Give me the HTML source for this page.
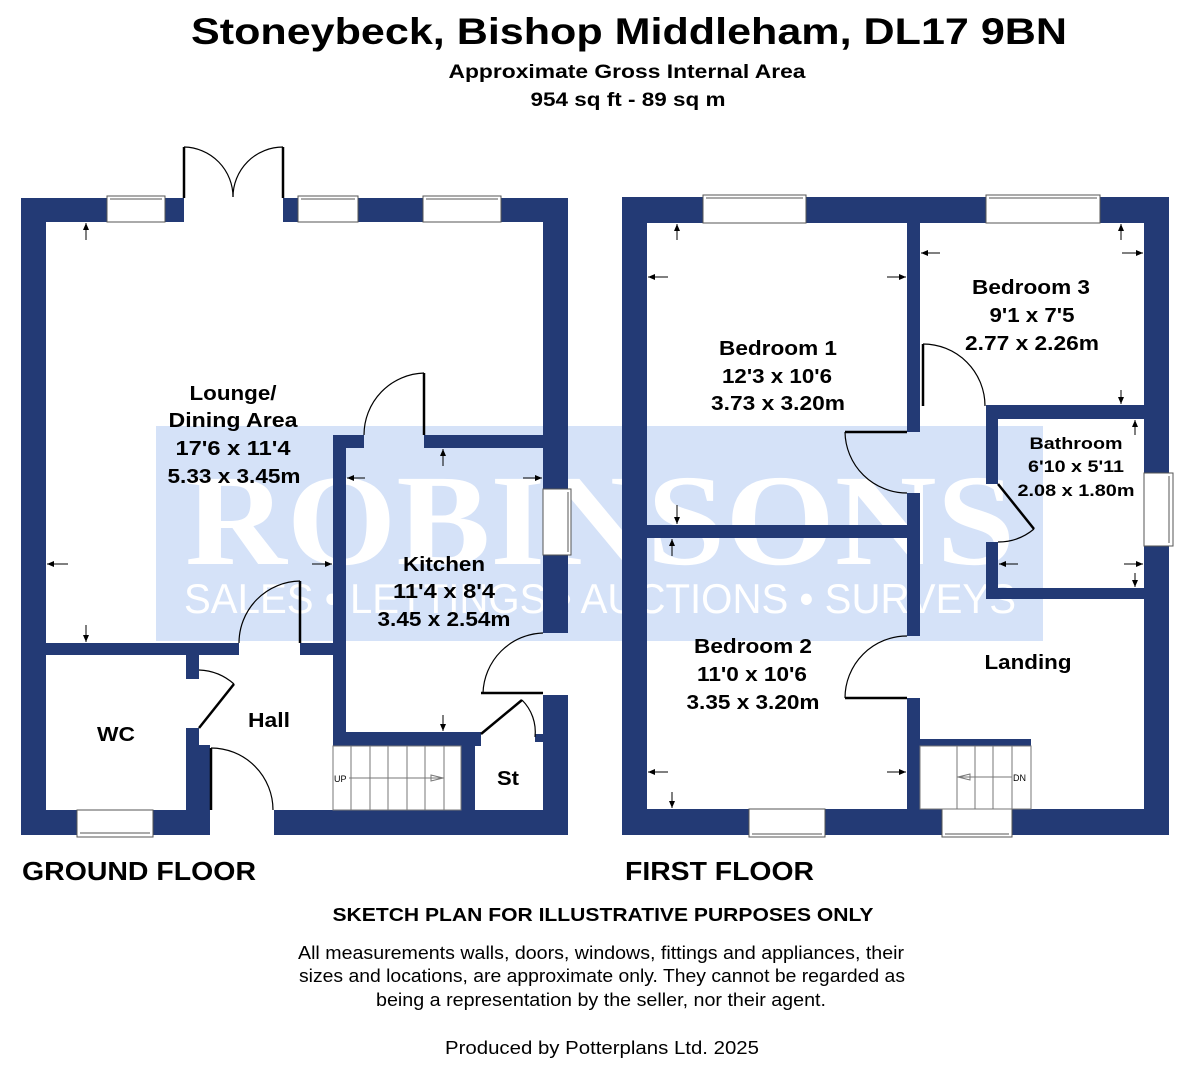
<!DOCTYPE html>
<html><head><meta charset="utf-8"><style>
html,body{margin:0;padding:0;background:#fff;}
svg{display:block;}
</style></head><body>
<svg width="1199" height="1080" viewBox="0 0 1199 1080" xmlns="http://www.w3.org/2000/svg" font-family="Liberation Sans, Arial, sans-serif">
<defs>
<marker id="ah" markerWidth="8" markerHeight="8" refX="7" refY="4" orient="auto" markerUnits="userSpaceOnUse"><path d="M0,1 L7,4 L0,7 Z" fill="#000"/></marker>
</defs>
<rect width="1199" height="1080" fill="#fff"/>
<!-- titles -->
<text x="629" y="44" font-size="37" font-weight="bold" text-anchor="middle" textLength="876" lengthAdjust="spacingAndGlyphs">Stoneybeck, Bishop Middleham, DL17 9BN</text>
<text x="627" y="78" font-size="19" font-weight="bold" text-anchor="middle" textLength="357" lengthAdjust="spacingAndGlyphs">Approximate Gross Internal Area</text>
<text x="628" y="106" font-size="19" font-weight="bold" text-anchor="middle" textLength="195" lengthAdjust="spacingAndGlyphs">954 sq ft - 89 sq m</text>

<!-- watermark -->
<rect x="156" y="426" width="887" height="215" fill="#d5e2f8"/>
<text x="600" y="564" font-family="Liberation Serif, serif" font-size="130" font-weight="bold" fill="#fff" text-anchor="middle" textLength="830" lengthAdjust="spacingAndGlyphs">ROBINSONS</text>
<text x="600" y="613" font-size="42" fill="#fff" text-anchor="middle" textLength="832" lengthAdjust="spacingAndGlyphs">SALES • LETTINGS • AUCTIONS • SURVEYS</text>

<g fill="#233a75">
<rect x="21" y="198" width="25" height="637"/>
<rect x="543" y="198" width="25" height="291"/>
<rect x="543" y="555" width="25" height="78"/>
<rect x="543" y="695" width="25" height="140"/>
<rect x="21" y="198" width="86" height="24"/>
<rect x="165" y="198" width="19" height="24"/>
<rect x="283" y="198" width="15" height="24"/>
<rect x="358" y="198" width="65" height="24"/>
<rect x="501" y="198" width="67" height="24"/>
<rect x="21" y="810" width="56" height="25"/>
<rect x="153" y="810" width="57" height="25"/>
<rect x="274" y="810" width="294" height="25"/>
<rect x="46" y="643" width="193" height="12"/>
<rect x="300" y="643" width="46" height="12"/>
<rect x="333" y="435" width="13" height="311"/>
<rect x="333" y="435" width="31" height="13"/>
<rect x="424" y="435" width="119" height="13"/>
<rect x="333" y="732" width="148" height="14"/>
<rect x="461" y="741" width="14" height="70"/>
<rect x="535" y="734" width="10" height="8"/>
<rect x="186" y="655" width="13" height="24"/>
<rect x="186" y="728" width="13" height="82"/>
<rect x="199" y="745" width="11" height="65"/>
<rect x="622" y="197" width="25" height="638"/>
<rect x="1144" y="197" width="25" height="276"/>
<rect x="1144" y="546" width="25" height="289"/>
<rect x="622" y="197" width="81" height="26"/>
<rect x="806" y="197" width="180" height="26"/>
<rect x="1100" y="197" width="69" height="26"/>
<rect x="622" y="809" width="127" height="26"/>
<rect x="825" y="809" width="117" height="26"/>
<rect x="1012" y="809" width="157" height="26"/>
<rect x="907" y="223" width="13" height="209"/>
<rect x="907" y="493" width="13" height="143"/>
<rect x="907" y="698" width="13" height="111"/>
<rect x="647" y="525" width="260" height="13"/>
<rect x="986" y="405" width="158" height="14"/>
<rect x="986" y="405" width="12" height="79"/>
<rect x="986" y="542" width="12" height="57"/>
<rect x="986" y="588" width="158" height="11"/>
<rect x="920" y="739" width="111" height="7"/>
</g>

<g fill="#fff" stroke="#555" stroke-width="1">
<rect x="107" y="196" width="58" height="26"/>
<rect x="298" y="196" width="60" height="26"/>
<rect x="423" y="196" width="78" height="26"/>
<rect x="77" y="810" width="76" height="27"/>
<rect x="543" y="489" width="28" height="66"/>
<rect x="703" y="195" width="103" height="28"/>
<rect x="986" y="195" width="114" height="28"/>
<rect x="749" y="809" width="76" height="28"/>
<rect x="942" y="809" width="70" height="28"/>
<rect x="1144" y="473" width="29" height="73"/>
</g>
<g stroke="#555" stroke-width="1">
<line x1="110" y1="199" x2="162" y2="199"/><line x1="301" y1="199" x2="355" y2="199"/><line x1="426" y1="199" x2="498" y2="199"/>
<line x1="80" y1="833" x2="150" y2="833"/><line x1="568" y1="492" x2="568" y2="552"/>
<line x1="706" y1="198" x2="803" y2="198"/><line x1="989" y1="198" x2="1097" y2="198"/>
<line x1="752" y1="834" x2="822" y2="834"/><line x1="945" y1="834" x2="1009" y2="834"/><line x1="1169" y1="476" x2="1169" y2="543"/>
</g>

<g fill="none" stroke="#000" stroke-width="1.2">
<line x1="184" y1="147" x2="184" y2="198" stroke-width="2.5"/>
<line x1="283" y1="147" x2="283" y2="198" stroke-width="2.5"/>
<path d="M184,147 A50,50 0 0 1 233,197"/>
<path d="M283,147 A50,50 0 0 0 233,197"/>
<line x1="424" y1="373" x2="424" y2="435" stroke-width="2.5"/>
<path d="M424,373 A62,62 0 0 0 364,435"/>
<line x1="300" y1="581" x2="300" y2="643" stroke-width="2.5"/>
<path d="M300,581 A62,62 0 0 0 239,643"/>
<line x1="481" y1="693" x2="543" y2="693" stroke-width="2.5"/>
<path d="M483,693 A62,62 0 0 1 543,633"/>
<line x1="481" y1="734" x2="522" y2="700" stroke-width="2.5"/>
<path d="M522,700 A45,45 0 0 1 535,737"/>
<line x1="199" y1="728" x2="234" y2="684" stroke-width="2.5"/>
<path d="M199,670 A56,56 0 0 1 234,684"/>
<line x1="211" y1="748" x2="211" y2="810" stroke-width="2.5"/>
<path d="M211,748 A62,62 0 0 1 273,810"/>
<line x1="923" y1="344" x2="923" y2="406" stroke-width="2.5"/>
<path d="M923,344 A62,62 0 0 1 985,406"/>
<line x1="845" y1="432" x2="907" y2="432" stroke-width="2.5"/>
<path d="M845,432 A62,62 0 0 0 907,493"/>
<line x1="845" y1="698" x2="907" y2="698" stroke-width="2.5"/>
<path d="M845,698 A62,62 0 0 1 907,636"/>
<line x1="998" y1="484" x2="1034" y2="529" stroke-width="2.5"/>
<path d="M1034,529 A56,56 0 0 1 998,542"/>
</g>

<g fill="none" stroke="#777" stroke-width="1">
<rect x="333" y="746" width="128" height="64"/>
<line x1="351" y1="746" x2="351" y2="810"/><line x1="370" y1="746" x2="370" y2="810"/><line x1="388" y1="746" x2="388" y2="810"/><line x1="407" y1="746" x2="407" y2="810"/><line x1="425" y1="746" x2="425" y2="810"/><line x1="444" y1="746" x2="444" y2="810"/>
<line x1="349" y1="778" x2="444" y2="778"/>
<path d="M431,775 L443,778 L431,781 Z"/>
<rect x="920" y="746" width="111" height="63"/>
<line x1="957" y1="746" x2="957" y2="809"/><line x1="975" y1="746" x2="975" y2="809"/><line x1="993" y1="746" x2="993" y2="809"/><line x1="1012" y1="746" x2="1012" y2="809"/>
<line x1="957" y1="777" x2="1012" y2="777"/>
<path d="M970,774 L958,777 L970,780 Z"/>
</g>
<text x="334" y="782" font-size="9">UP</text>
<text x="1013" y="781" font-size="9">DN</text>

<g stroke="#000" stroke-width="1" marker-end="url(#ah)">
<line x1="86" y1="240" x2="86" y2="223"/>
<line x1="86" y1="625" x2="86" y2="642"/>
<line x1="68" y1="564" x2="47" y2="564"/>
<line x1="312" y1="564" x2="332" y2="564"/>
<line x1="443" y1="466" x2="443" y2="449"/>
<line x1="365" y1="478" x2="347" y2="478"/>
<line x1="523" y1="478" x2="542" y2="478"/>
<line x1="443" y1="715" x2="443" y2="731"/>
<line x1="677" y1="240" x2="677" y2="224"/>
<line x1="668" y1="277" x2="648" y2="277"/>
<line x1="887" y1="277" x2="906" y2="277"/>
<line x1="677" y1="505" x2="677" y2="524"/>
<line x1="672" y1="556" x2="672" y2="539"/>
<line x1="668" y1="772" x2="648" y2="772"/>
<line x1="887" y1="772" x2="906" y2="772"/>
<line x1="672" y1="792" x2="672" y2="808"/>
<line x1="940" y1="253" x2="921" y2="253"/>
<line x1="1122" y1="253" x2="1143" y2="253"/>
<line x1="1121" y1="240" x2="1121" y2="224"/>
<line x1="1121" y1="390" x2="1121" y2="404"/>
<line x1="1135" y1="435" x2="1135" y2="420"/>
<line x1="1018" y1="564" x2="999" y2="564"/>
<line x1="1124" y1="564" x2="1143" y2="564"/>
<line x1="1135" y1="573" x2="1135" y2="587"/>
</g>

<g font-weight="bold" font-size="20" text-anchor="middle" lengthAdjust="spacingAndGlyphs">
<text x="233" y="400" textLength="87" lengthAdjust="spacingAndGlyphs">Lounge/</text>
<text x="233" y="427" textLength="129" lengthAdjust="spacingAndGlyphs">Dining Area</text>
<text x="233" y="455" textLength="115" lengthAdjust="spacingAndGlyphs">17'6 x 11'4</text>
<text x="234" y="483" textLength="133" lengthAdjust="spacingAndGlyphs">5.33 x 3.45m</text>
<text x="444" y="571" textLength="82" lengthAdjust="spacingAndGlyphs">Kitchen</text>
<text x="444" y="598" textLength="102" lengthAdjust="spacingAndGlyphs">11'4 x 8'4</text>
<text x="444" y="626" textLength="133" lengthAdjust="spacingAndGlyphs">3.45 x 2.54m</text>
<text x="116" y="741" textLength="38" lengthAdjust="spacingAndGlyphs">WC</text>
<text x="269" y="727" textLength="42" lengthAdjust="spacingAndGlyphs">Hall</text>
<text x="508" y="785" textLength="22" lengthAdjust="spacingAndGlyphs">St</text>
<text x="778" y="355" textLength="118" lengthAdjust="spacingAndGlyphs">Bedroom 1</text>
<text x="777" y="383" textLength="110" lengthAdjust="spacingAndGlyphs">12'3 x 10'6</text>
<text x="778" y="410" textLength="134" lengthAdjust="spacingAndGlyphs">3.73 x 3.20m</text>
<text x="1031" y="294" textLength="118" lengthAdjust="spacingAndGlyphs">Bedroom 3</text>
<text x="1032" y="322" textLength="85" lengthAdjust="spacingAndGlyphs">9'1 x 7'5</text>
<text x="1032" y="350" textLength="134" lengthAdjust="spacingAndGlyphs">2.77 x 2.26m</text>
<text x="1076" y="449" font-size="17" textLength="93" lengthAdjust="spacingAndGlyphs">Bathroom</text>
<text x="1076" y="472" font-size="17" textLength="96" lengthAdjust="spacingAndGlyphs">6'10 x 5'11</text>
<text x="1076" y="496" font-size="17" textLength="117" lengthAdjust="spacingAndGlyphs">2.08 x 1.80m</text>
<text x="753" y="653" textLength="118" lengthAdjust="spacingAndGlyphs">Bedroom 2</text>
<text x="752" y="681" textLength="110" lengthAdjust="spacingAndGlyphs">11'0 x 10'6</text>
<text x="753" y="709" textLength="133" lengthAdjust="spacingAndGlyphs">3.35 x 3.20m</text>
<text x="1028" y="669" textLength="87" lengthAdjust="spacingAndGlyphs">Landing</text>
</g>
<text x="22" y="880" font-size="26" font-weight="bold" textLength="234" lengthAdjust="spacingAndGlyphs">GROUND FLOOR</text>
<text x="625" y="880" font-size="26" font-weight="bold" textLength="189" lengthAdjust="spacingAndGlyphs">FIRST FLOOR</text>
<text x="603" y="921" font-size="18" font-weight="bold" text-anchor="middle" textLength="541" lengthAdjust="spacingAndGlyphs">SKETCH PLAN FOR ILLUSTRATIVE PURPOSES ONLY</text>
<g font-size="18" text-anchor="middle">
<text x="601" y="959" textLength="606" lengthAdjust="spacingAndGlyphs">All measurements walls, doors, windows, fittings and appliances, their</text>
<text x="602" y="982" textLength="606" lengthAdjust="spacingAndGlyphs">sizes and locations, are approximate only. They cannot be regarded as</text>
<text x="601" y="1006" textLength="450" lengthAdjust="spacingAndGlyphs">being a representation by the seller, nor their agent.</text>
<text x="602" y="1054" textLength="314" lengthAdjust="spacingAndGlyphs">Produced by Potterplans Ltd. 2025</text>
</g>
</svg>
</body></html>
